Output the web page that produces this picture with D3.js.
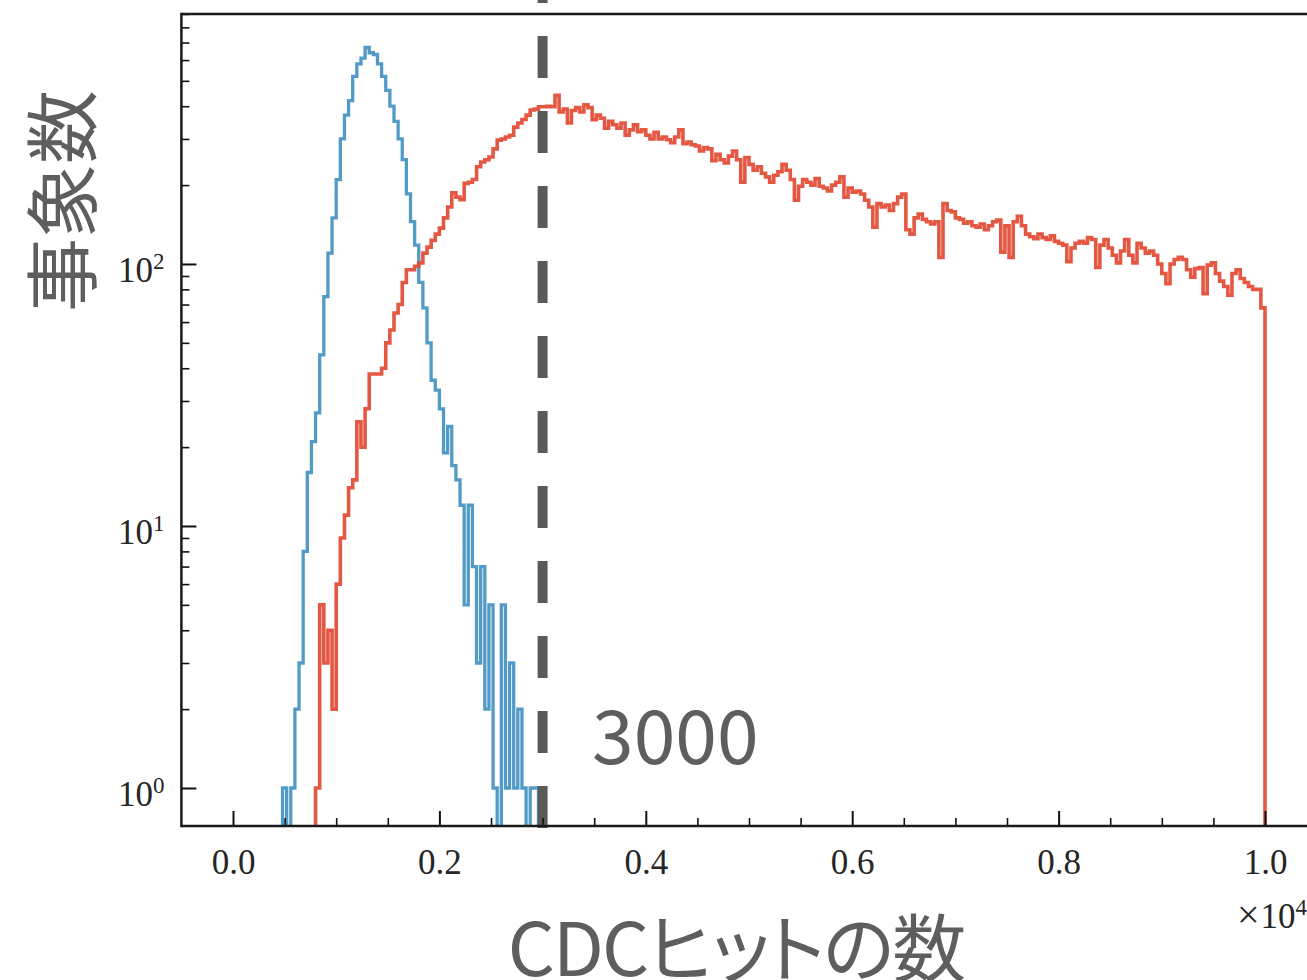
<!DOCTYPE html>
<html>
<head>
<meta charset="utf-8">
<script src="https://cdn.jsdelivr.net/npm/d3@7"></script>
<style>
  body { margin: 0; background: #fff; }
  svg { display: block; }
  .prop { font-feature-settings: "palt" 1; }
</style>
</head>
<body>
<svg id="chart" width="1307" height="980"></svg>
<script>
// ---- histogram data: counts per 40-hit bin ----
const binWidth = 40;

// signal-like sample, bins starting at 480 hits
const blueStart = 480;
const blueCounts = [
  1, 0, 1, 2, 3, 8, 16, 21, 27, 45,
  75, 110, 150, 210, 300, 370, 420, 520, 580, 610,
  670, 640, 630, 580, 520, 460, 400, 350, 300, 250,
  185, 145, 118, 85, 68, 50, 36, 33, 28, 19,
  24, 17, 15, 12, 5, 12, 7, 3, 7, 2,
  5, 1, 0, 5, 1, 3, 1, 2, 1, 0,
  1, 1
];

// background-like sample, bins starting at 800 hits and ending at 10000
const redStart = 800;
const redCounts = [
  1, 5, 3, 4, 2, 6, 9, 11, 14, 15,
  25, 20, 28, 38, 38, 38, 40, 50, 56, 65,
  70, 85, 95, 95, 98, 101, 110, 116, 123, 130,
  137, 150, 165, 187, 180, 176, 203, 205, 210, 235,
  245, 250, 256, 275, 297, 300, 305, 310, 333, 345,
  356, 370, 387, 390, 398, 398, 400, 398, 440, 380,
  390, 345, 385, 395, 380, 405, 395, 355, 370, 360,
  330, 350, 340, 330, 345, 310, 325, 340, 320, 325,
  310, 300, 318, 300, 305, 298, 290, 305, 325, 288,
  292, 285, 282, 270, 278, 275, 248, 262, 250, 243,
  258, 270, 250, 205, 255, 240, 228, 235, 222, 215,
  205, 218, 225, 240, 228, 210, 175, 198, 210, 205,
  200, 212, 198, 195, 190, 200, 205, 215, 180, 195,
  188, 190, 185, 175, 165, 138, 170, 165, 168, 160,
  170, 180, 185, 135, 130, 150, 155, 148, 145, 142,
  145, 106, 170, 160, 158, 150, 148, 143, 145, 140,
  138, 142, 135, 140, 145, 147, 111, 140, 106, 145,
  152, 140, 130, 127, 125, 130, 126, 124, 128, 122,
  120, 118, 102, 115, 120, 122, 120, 126, 124, 97,
  118, 124, 115, 108, 101, 112, 124, 108, 101, 120,
  115, 110, 112, 108, 100, 92, 84, 100, 104, 106,
  104, 95, 89, 96, 97, 77, 99, 101, 92, 86,
  82, 76, 92, 95, 88, 85, 82, 80, 80, 68
];

// selection cut
const cutValue = 3000;
const cutLabel = "3000";

// axes
const xMajorTicks = [0, 2000, 4000, 6000, 8000, 10000];
const xTickLabels = ["0.0", "0.2", "0.4", "0.6", "0.8", "1.0"];
const xMinorTicks = [500, 1000, 1500, 2500, 3000, 3500, 4500, 5000, 5500,
                     6500, 7000, 7500, 8500, 9000, 9500];
const yMajorTicks = [1, 10, 100];
const yTickExponents = ["0", "1", "2"];
const yMinorTicks = [2, 3, 4, 5, 6, 7, 8, 9, 20, 30, 40, 50, 60, 70, 80, 90,
                     200, 300, 400, 500, 600, 700, 800, 900];
const xLabel = "CDCヒットの数";
const yLabel = "事象数";
const offsetBase = "10";
const offsetExponent = "4";

// ---- layout ----
const svg = d3.select("#chart");
const plot = { left: 181.4, right: 1316.6, top: 14, bottom: 826 };

const x = d3.scaleLinear().domain([-500, 10500]).range([plot.left, plot.right]);
const y = d3.scaleLog().domain([Math.pow(10, -0.145), Math.pow(10, 2.954)])
  .range([plot.bottom, plot.top]);

const serif = "'Liberation Serif', 'DejaVu Serif', serif";
const cjk = "'Noto Sans CJK JP', 'Noto Sans', sans-serif";
const labelGrey = "#5e5e5e";

svg.append("defs").append("clipPath").attr("id", "plot-clip")
  .append("rect")
  .attr("x", plot.left).attr("y", plot.top)
  .attr("width", plot.right - plot.left).attr("height", plot.bottom - plot.top);

// step outline of a histogram, dropping to the floor at both ends and at empty bins
function stepPoints(start, counts) {
  const pts = [[start, 0]];
  counts.forEach((c, i) => {
    const x0 = start + i * binWidth;
    pts.push([x0, c], [x0 + binWidth, c]);
  });
  pts.push([start + counts.length * binWidth, 0]);
  return pts;
}

const line = d3.line()
  .x(d => x(d[0]))
  .y(d => d[1] > 0 ? y(d[1]) : plot.bottom + 60);

const curves = svg.append("g").attr("clip-path", "url(#plot-clip)");

curves.append("path")
  .attr("d", line(stepPoints(blueStart, blueCounts)))
  .attr("fill", "none")
  .attr("stroke", "#348ABD")
  .attr("stroke-opacity", 0.85)
  .attr("stroke-width", 3.3)
  .attr("stroke-linejoin", "miter");

curves.append("path")
  .attr("d", line(stepPoints(redStart, redCounts)))
  .attr("fill", "none")
  .attr("stroke", "#E24A33")
  .attr("stroke-opacity", 0.92)
  .attr("stroke-width", 3.6)
  .attr("stroke-linejoin", "miter");

// dashed cut line
svg.append("path")
  .attr("d", `M${x(cutValue)},828 L${x(cutValue)},-60`)
  .attr("stroke", "#5a5a5a")
  .attr("stroke-width", 10)
  .attr("stroke-dasharray", "42 33")
  .attr("fill", "none");

// ---- x axis (ticks pointing inward) ----
const xAxisG = svg.append("g").attr("transform", `translate(0,${plot.bottom})`);
xAxisG.append("g")
  .call(d3.axisBottom(x).tickValues(xMajorTicks).tickSize(-15).tickPadding(23)
    .tickFormat((d, i) => xTickLabels[i]))
  .call(g => g.select(".domain").remove())
  .call(g => g.selectAll("line").attr("stroke", "#111").attr("stroke-width", 2))
  .call(g => g.selectAll("text").attr("font-family", serif).attr("font-size", 35)
    .attr("fill", "#262626"));
xAxisG.append("g")
  .call(d3.axisBottom(x).tickValues(xMinorTicks).tickSize(-8).tickFormat(""))
  .call(g => g.select(".domain").remove())
  .call(g => g.selectAll("line").attr("stroke", "#111").attr("stroke-width", 1.6));

// ---- y axis (log, ticks pointing inward) ----
const yAxisG = svg.append("g").attr("transform", `translate(${plot.left},0)`);
yAxisG.append("g")
  .call(d3.axisLeft(y).tickValues(yMajorTicks).tickSize(-15).tickFormat(""))
  .call(g => g.select(".domain").remove())
  .call(g => g.selectAll("line").attr("stroke", "#111").attr("stroke-width", 2));
yAxisG.append("g")
  .call(d3.axisLeft(y).tickValues(yMinorTicks).tickSize(-8).tickFormat(""))
  .call(g => g.select(".domain").remove())
  .call(g => g.selectAll("line").attr("stroke", "#111").attr("stroke-width", 1.6));

// power-of-ten labels
yMajorTicks.forEach((v, i) => {
  const t = svg.append("text")
    .attr("x", plot.left - 17)
    .attr("y", y(v) + 18)
    .attr("text-anchor", "end")
    .attr("font-family", serif)
    .attr("fill", "#262626");
  t.append("tspan").attr("font-size", 35).text("10");
  t.append("tspan").attr("font-size", 23).attr("dy", -13).text(yTickExponents[i]);
});

// axis offset text (×10^4)
const off = svg.append("text")
  .attr("x", 1237).attr("y", 928)
  .attr("font-family", serif).attr("fill", "#262626");
off.append("tspan").attr("font-size", 40).text("×");
off.append("tspan").attr("font-size", 35).attr("dx", 1).text(offsetBase);
off.append("tspan").attr("font-size", 23).attr("dy", -13).text(offsetExponent);

// ---- spines ----
const spine = svg.append("g").attr("stroke", "#1a1a1a").attr("stroke-width", 2.5);
spine.append("line").attr("x1", plot.left).attr("x2", plot.left)
  .attr("y1", plot.top - 1.25).attr("y2", plot.bottom + 1.25);
spine.append("line").attr("x1", plot.left).attr("x2", plot.right)
  .attr("y1", plot.top).attr("y2", plot.top);
spine.append("line").attr("x1", plot.left).attr("x2", plot.right)
  .attr("y1", plot.bottom).attr("y2", plot.bottom);

// ---- labels ----
svg.append("text")
  .attr("x", 592).attr("y", 764)
  .attr("font-family", cjk).attr("font-size", 75)
  .attr("fill", labelGrey)
  .text(cutLabel);

svg.append("text")
  .attr("class", "prop")
  .attr("x", 736).attr("y", 976)
  .attr("text-anchor", "middle")
  .attr("letter-spacing", -2)
  .attr("font-family", cjk).attr("font-size", 74)
  .attr("fill", labelGrey)
  .text(xLabel);

svg.append("text")
  .attr("transform", "translate(57,201) rotate(-90)")
  .attr("text-anchor", "middle")
  .attr("dominant-baseline", "central")
  .attr("font-family", cjk).attr("font-size", 74)
  .attr("fill", labelGrey)
  .text(yLabel);
</script>
</body>
</html>
